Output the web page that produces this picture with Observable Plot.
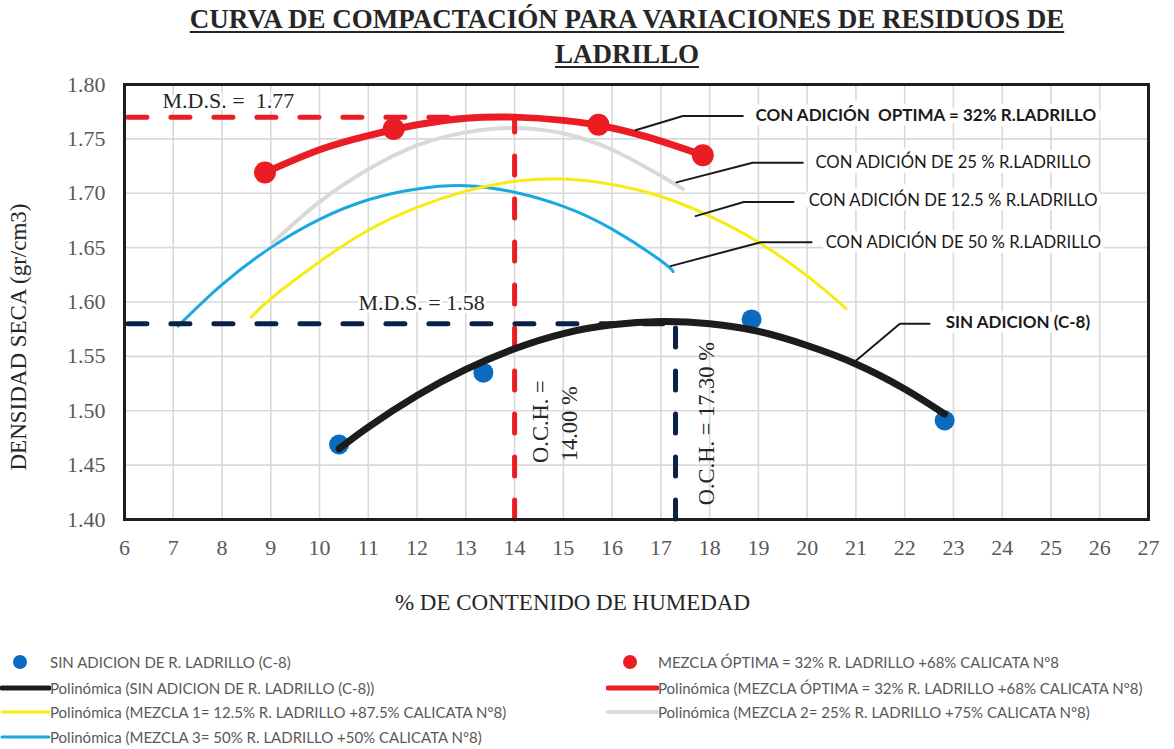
<!DOCTYPE html>
<html>
<head>
<meta charset="utf-8">
<script src="https://cdn.jsdelivr.net/npm/d3@7"></script>
<script src="https://cdn.jsdelivr.net/npm/@observablehq/plot@0.6"></script>
<style>
  html, body { margin: 0; padding: 0; background: #fff; }
  body { width: 1174px; height: 749px; position: relative; overflow: hidden; }
  #title { position: absolute; left: 80px; top: 2px; width: 1094px; text-align: center;
    font-family: "Liberation Serif", "Times New Roman", serif; font-weight: bold; font-size: 27px;
    line-height: 35px; color: #262626; text-decoration: underline; text-underline-offset: 3px; }
  #chart { position: absolute; left: 0; top: 72px; }
  .lg { position: absolute; font-family: Lato, "Open Sans", sans-serif; font-size: 15px; color: #595959; white-space: nowrap; line-height: 18px; }
  .lgm { position: absolute; }
</style>
</head>
<body>
<div id="title">CURVA DE COMPACTACIÓN PARA VARIACIONES DE RESIDUOS DE<br>LADRILLO</div>
<div id="chart"></div>
<div id="legend"></div>
<script>
// ---------- data ----------
const xTicks = [6, 7, 8, 9, 10, 11, 12, 13, 14, 15, 16, 17, 18, 19, 20, 21, 22, 23, 24, 25, 26, 27];
const yTicks = [1.40, 1.45, 1.50, 1.55, 1.60, 1.65, 1.70, 1.75, 1.80];

// measured points
const sinAdicionX = [10.40, 13.36, 18.86, 22.82];
const sinAdicionY = [1.469, 1.535, 1.584, 1.491];
const optimaX = [8.88, 11.52, 15.72, 17.86];
const optimaY = [1.719, 1.759, 1.763, 1.735];

// trend curves
const curveSinX = [10.4, 11, 12, 13, 14, 15, 16, 17, 18, 19, 20, 21, 22, 22.82];
const curveSinY = [1.465, 1.485, 1.514, 1.538, 1.557, 1.571, 1.579, 1.582, 1.580, 1.573, 1.560, 1.543, 1.520, 1.497];
const curveOptX = [8.88, 10, 11, 12, 13, 14, 15, 16, 17, 17.86];
const curveOptY = [1.719, 1.740, 1.753, 1.763, 1.769, 1.770, 1.767, 1.760, 1.748, 1.735];
const curve125X = [8.6, 9, 10, 11, 12, 13, 14, 15, 16, 17, 18, 19, 20, 20.8];
const curve125Y = [1.586, 1.603, 1.637, 1.666, 1.687, 1.702, 1.711, 1.713, 1.708, 1.697, 1.679, 1.655, 1.624, 1.594];
const curve25X = [9.05, 10, 11, 12, 13, 14, 15, 16, 17, 17.45];
const curve25Y = [1.655, 1.692, 1.722, 1.744, 1.756, 1.760, 1.755, 1.740, 1.716, 1.704];
const curve50X = [7.1, 8, 9, 10, 11, 12, 13, 14, 15, 16, 17, 17.25];
const curve50Y = [1.578, 1.616, 1.650, 1.676, 1.694, 1.704, 1.707, 1.701, 1.688, 1.667, 1.638, 1.628];

// results
const mdsValues = [1.77, 1.58];
const ochValues = [14.00, 17.30];

// annotation labels and leader lines
const annoText = ["CON ADICIÓN  OPTIMA = 32% R.LADRILLO", "CON ADICIÓN DE 25 % R.LADRILLO", "CON ADICIÓN DE 12.5 % R.LADRILLO", "CON ADICIÓN DE 50 % R.LADRILLO", "SIN ADICION (C-8)"];
const annoBold = [true, false, false, false, true];
const annoX = [18.94, 20.17, 20.03, 20.38, 22.84];
const annoY = [1.771, 1.728, 1.693, 1.655, 1.581];
const leaderX = [[16.48, 17.45, 18.68], [17.32, 18.88, 19.91], [17.71, 18.70, 19.72], [17.20, 19.05, 20.09], [21.00, 21.90, 22.51]];
const leaderY = [[1.758, 1.771, 1.771], [1.710, 1.728, 1.728], [1.679, 1.692, 1.692], [1.633, 1.655, 1.655], [1.546, 1.580, 1.580]];

const legendLabels = [
  "SIN ADICION DE R. LADRILLO (C-8)",
  "MEZCLA ÓPTIMA = 32% R. LADRILLO +68% CALICATA Nº8",
  "Polinómica (SIN ADICION DE R. LADRILLO (C-8))",
  "Polinómica (MEZCLA ÓPTIMA = 32% R. LADRILLO +68% CALICATA Nº8)",
  "Polinómica (MEZCLA 1= 12.5% R. LADRILLO +87.5% CALICATA Nº8)",
  "Polinómica (MEZCLA 2= 25% R. LADRILLO +75% CALICATA Nº8)",
  "Polinómica (MEZCLA 3= 50% R. LADRILLO +50% CALICATA Nº8)"
];

// ---------- styles ----------
const C = { blue: "#0b6cbf", red: "#ec1c24", black: "#1c1c1c", yellow: "#f7ec12", gray: "#d9d9d9", cyan: "#19a9e1", navy: "#0b2148", grid: "#d9d9d9", text: "#595959" };
const serif = "'Liberation Serif', 'Times New Roman', serif";
const sans = "Lato, 'Open Sans', sans-serif";

const pts = (xs, ys) => xs.map((x, i) => ({ x, y: ys[i] }));
const sinPts = pts(sinAdicionX, sinAdicionY);
const optPts = pts(optimaX, optimaY);
const cSin = pts(curveSinX, curveSinY);
const cOpt = pts(curveOptX, curveOptY);
const c125 = pts(curve125X, curve125Y);
const c25 = pts(curve25X, curve25Y);
const c50 = pts(curve50X, curve50Y);
const annos = annoText.map((t, i) => ({ text: t, x: annoX[i], y: annoY[i], bold: annoBold[i] }));
const leaders = leaderX.flatMap((xs, k) => xs.map((x, j) => ({ id: k, x, y: leaderY[k][j] })));
const guides = mdsValues.map((m, i) => ({ mds: m, och: ochValues[i] }));

const mdsLabels = guides.map((g, i) => ({ text: i === 0 ? `M.D.S. =  ${g.mds.toFixed(2)}` : `M.D.S. = ${g.mds.toFixed(2)}`, x: i === 0 ? 6.78 : 10.8, y: i === 0 ? 1.7845 : 1.5987 }));
const ochLabels = [
  { text: "O.C.H. =", x: 14.53, y: 1.452 },
  { text: `${ochValues[0].toFixed(2)} %`, x: 15.13, y: 1.4535 },
  { text: `O.C.H. = ${ochValues[1].toFixed(2)} %`, x: 17.94, y: 1.413 }
];

const dash = { strokeWidth: 5, strokeDasharray: "19,24", strokeLinecap: "round" };

const chart = Plot.plot({
  width: 1174,
  height: 570,
  marginLeft: 124,
  marginRight: 26,
  marginTop: 12,
  marginBottom: 123,
  x: { domain: [6, 27], ticks: xTicks },
  y: { domain: [1.40, 1.80], ticks: yTicks },
  style: { background: "#fff" },
  marks: [
    Plot.gridX(xTicks, { stroke: C.grid, strokeOpacity: 1, strokeWidth: 1.6 }),
    Plot.gridY(yTicks, { stroke: C.grid, strokeOpacity: 1, strokeWidth: 1.6 }),
    Plot.axisX(xTicks, { tickSize: 0, tickPadding: 20, fontSize: 22, fontFamily: serif, color: C.text, label: null }),
    Plot.axisY(yTicks, { tickSize: 0, tickPadding: 19, fontSize: 22, fontFamily: serif, color: C.text, label: null, tickFormat: d => d.toFixed(2) }),
    Plot.text(["DENSIDAD SECA (gr/cm3)"], { frameAnchor: "left", textAnchor: "middle", lineAnchor: "middle", dx: -106, dy: 35, rotate: -90, fontSize: 23, fontFamily: serif, fill: "#262626" }),
    Plot.text(["% DE CONTENIDO DE HUMEDAD"], { frameAnchor: "bottom", textAnchor: "middle", lineAnchor: "middle", dx: -64, dy: 83, fontSize: 23, fontFamily: serif, fill: "#262626" }),
    // thin trend curves
    Plot.line(c50, { x: "x", y: "y", stroke: C.cyan, strokeWidth: 3, curve: "natural" }),
    Plot.line(c125, { x: "x", y: "y", stroke: C.yellow, strokeWidth: 3, curve: "natural" }),
    Plot.line(c25, { x: "x", y: "y", stroke: C.gray, strokeWidth: 4, curve: "natural" }),
    // guide lines
    Plot.ruleY(guides.slice(0, 1), { y: "mds", x1: 6.08, x2: "och", stroke: C.red, ...dash }),
    Plot.ruleX(guides.slice(0, 1), { x: "och", y1: 1.40, y2: "mds", stroke: C.red, ...dash }),
    Plot.ruleY(guides.slice(1, 2), { y: "mds", x1: 6.08, x2: "och", stroke: C.navy, ...dash }),
    Plot.ruleX(guides.slice(1, 2), { x: "och", y1: 1.40, y2: "mds", stroke: C.navy, ...dash }),
    // measured points and thick curves
    Plot.dot(sinPts, { x: "x", y: "y", r: 10, fill: C.blue }),
    Plot.line(cSin, { x: "x", y: "y", stroke: C.black, strokeWidth: 7, curve: "natural", strokeLinecap: "round" }),
    Plot.line(cOpt, { x: "x", y: "y", stroke: C.red, strokeWidth: 7, curve: "natural", strokeLinecap: "round" }),
    Plot.dot(optPts, { x: "x", y: "y", r: 11, fill: C.red }),
    // annotations
    Plot.line(leaders, { x: "x", y: "y", z: "id", stroke: "#1a1a1a", strokeWidth: 2, curve: "linear" }),
    Plot.text(annos.filter(d => d.bold), { x: "x", y: "y", text: "text", textAnchor: "start", fontSize: 17, fontWeight: "bold", fontFamily: sans, fill: "#1a1a1a", stroke: "#fff", strokeWidth: 10, paintOrder: "stroke" }),
    Plot.text(annos.filter(d => !d.bold), { x: "x", y: "y", text: "text", textAnchor: "start", fontSize: 16.7, fontFamily: sans, fill: "#1a1a1a", stroke: "#fff", strokeWidth: 10, paintOrder: "stroke" }),
    Plot.text(mdsLabels, { x: "x", y: "y", text: "text", textAnchor: "start", fontSize: 22, fontFamily: serif, fill: "#262626", stroke: "#fff", strokeWidth: 6, paintOrder: "stroke" }),
    Plot.text(ochLabels, { x: "x", y: "y", text: "text", textAnchor: "start", rotate: -90, fontSize: 22.5, fontFamily: serif, fill: "#262626" }),
    Plot.frame({ stroke: "#1e1e1e", strokeWidth: 3 })
  ]
});
document.getElementById("chart").appendChild(chart);

// ---------- legend ----------
const legend = document.getElementById("legend");
const legendItems = [
  { label: legendLabels[0], kind: "dot", color: C.blue, left: 50, mx: 20, top: 662 },
  { label: legendLabels[1], kind: "dot", color: C.red, left: 658, mx: 630, top: 662 },
  { label: legendLabels[2], kind: "line", color: C.black, w: 5, left: 50, x1: 0, x2: 47, top: 688 },
  { label: legendLabels[3], kind: "line", color: C.red, w: 5, left: 658, x1: 606, x2: 655, top: 688 },
  { label: legendLabels[4], kind: "line", color: C.yellow, w: 3, left: 50, x1: 0, x2: 47, top: 712 },
  { label: legendLabels[5], kind: "line", color: C.gray, w: 4, left: 658, x1: 606, x2: 655, top: 712 },
  { label: legendLabels[6], kind: "line", color: C.cyan, w: 3, left: 50, x1: 0, x2: 47, top: 737 }
];
for (const it of legendItems) {
  const t = document.createElement("div");
  t.className = "lg";
  t.textContent = it.label;
  t.style.left = it.left + "px";
  t.style.top = (it.top - 9) + "px";
  legend.appendChild(t);
  const s = document.createElementNS("http://www.w3.org/2000/svg", "svg");
  s.setAttribute("class", "lgm");
  if (it.kind === "dot") {
    s.setAttribute("width", 20); s.setAttribute("height", 20);
    s.style.left = (it.mx - 10) + "px"; s.style.top = (it.top - 10) + "px";
    s.innerHTML = `<circle cx="10" cy="10" r="7" fill="${it.color}"/>`;
  } else {
    s.setAttribute("width", it.x2 - it.x1 + 4); s.setAttribute("height", 10);
    s.style.left = (it.x1) + "px"; s.style.top = (it.top - 5) + "px";
    s.innerHTML = `<line x1="2" y1="5" x2="${it.x2 - it.x1 + 2}" y2="5" stroke="${it.color}" stroke-width="${it.w}" stroke-linecap="round"/>`;
  }
  legend.appendChild(s);
}
</script>
</body>
</html>
